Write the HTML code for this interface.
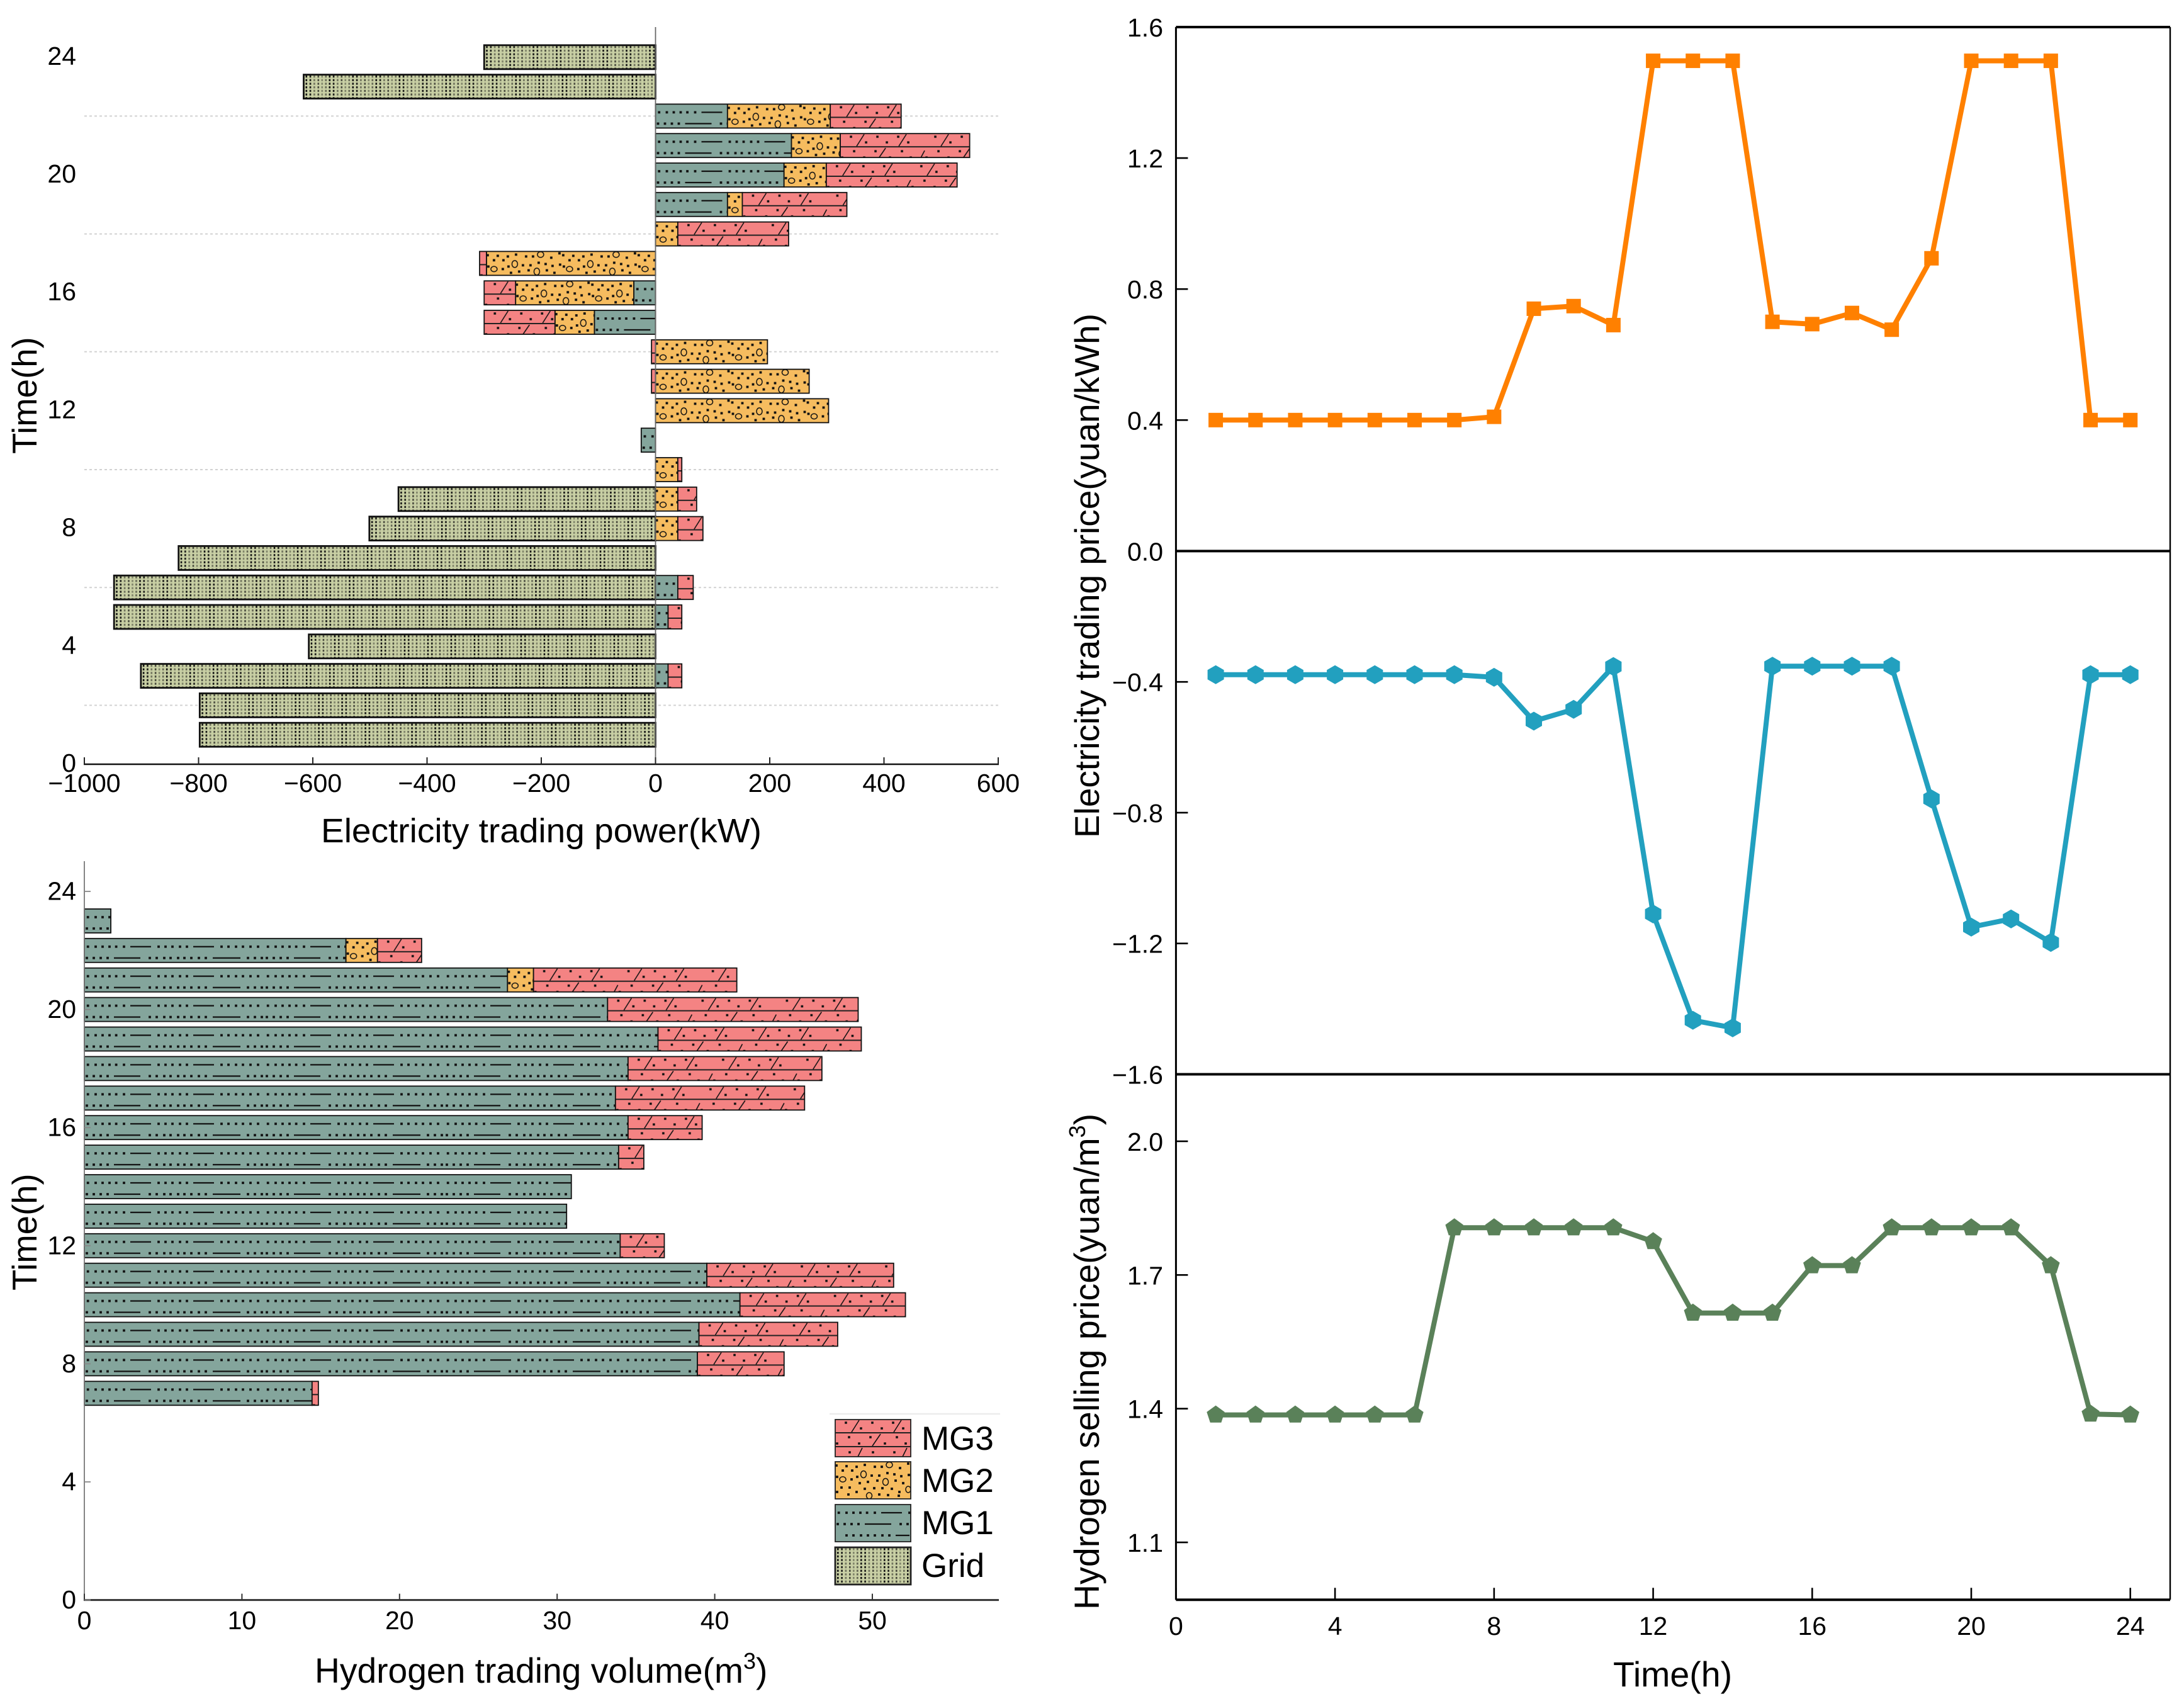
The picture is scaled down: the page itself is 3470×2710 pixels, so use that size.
<!DOCTYPE html>
<html lang="en">
<head>
<meta charset="utf-8">
<title>Electricity and hydrogen trading</title>
<style>
html,body{margin:0;padding:0;background:#fff;}
svg{display:block;}
text{font-family:"Liberation Sans",Arial,sans-serif;fill:#000;}
</style>
</head>
<body>
<svg id="fig" xmlns="http://www.w3.org/2000/svg" width="3470" height="2710" viewBox="0 0 3470 2710">
  <defs id="defs"></defs>
  <g id="elec-chart"></g>
  <g id="hydro-chart"></g>
  <g id="price-chart"></g>
  <g id="legend">
    <line x1="1318" y1="2246" x2="1589" y2="2246" stroke="#ececec" stroke-width="2.5"></line>
    <text x="1464" y="2303" font-size="53">MG3</text>
    <text x="1464" y="2370" font-size="53">MG2</text>
    <text x="1464" y="2437" font-size="53">MG1</text>
    <text x="1464" y="2505" font-size="53">Grid</text>
  </g>
  <text x="510" y="1338" font-size="54" textLength="700" lengthAdjust="spacingAndGlyphs">Electricity trading power(kW)</text>
  <text x="500" y="2673" font-size="55.2">Hydrogen trading volume(m<tspan font-size="36" dy="-22">3</tspan><tspan dy="22">)</tspan></text>
  <text transform="translate(58,721) rotate(-90)" font-size="54.5">Time(h)</text>
  <text transform="translate(58,2050) rotate(-90)" font-size="54.5">Time(h)</text>
  <text transform="translate(1746,1331) rotate(-90)" font-size="55" textLength="833" lengthAdjust="spacingAndGlyphs">Electricity trading price(yuan/kWh)</text>
  <text transform="translate(1746,2557) rotate(-90)" font-size="55.5">Hydrogen selling price(yuan/m<tspan font-size="36" dy="-22">3</tspan><tspan dy="22">)</tspan></text>
  <text x="2563" y="2679" font-size="55.5">Time(h)</text>
</svg>
<script>
/* ---------- chart data ---------- */
const hours = [1,2,3,4,5,6,7,8,9,10,11,12,13,14,15,16,17,18,19,20,21,22,23,24];
const elecGrid = [-798,-798,-901,-607,-948,-948,-835,-501,-450,0,0,0,0,0,0,0,0,0,0,0,0,0,-616,-300];
const elecMG1  = [0,0,22,0,22,39,0,0,0,0,-25,0,0,0,-107,-38,0,0,126,225,238,126,0,0];
const elecMG2  = [0,0,0,0,0,0,0,39,39,39,0,303,269,196,-69,-207,-296,39,26,74,85.5,180,0,0];
const elecMG3  = [0,0,24,0,24,27,0,44,33,7,0,0,-7,-7,-124,-55,-12,194,183,229,226.5,124,0,0];
const hydroMG1 = [0,0,0,0,0,0,14.45,38.9,39.0,41.6,39.5,34.0,30.6,30.9,33.9,34.5,33.7,34.5,36.4,33.2,26.85,16.6,1.68,0];
const hydroMG2 = [0,0,0,0,0,0,0,0,0,0,0,0,0,0,0,0,0,0,0,0,1.65,2,0,0];
const hydroMG3 = [0,0,0,0,0,0,0.4,5.5,8.8,10.5,11.85,2.8,0,0,1.6,4.7,12,12.3,12.9,15.9,12.9,2.8,0,0];
const priceBuy  = [0.4,0.4,0.4,0.4,0.4,0.4,0.4,0.41,0.74,0.748,0.69,1.497,1.497,1.497,0.7,0.693,0.727,0.676,0.894,1.497,1.497,1.497,0.4,0.4];
const priceSell = [-0.378,-0.378,-0.378,-0.378,-0.378,-0.378,-0.378,-0.386,-0.52,-0.484,-0.353,-1.11,-1.435,-1.458,-0.352,-0.352,-0.352,-0.352,-0.758,-1.15,-1.125,-1.197,-0.378,-0.378];
const priceH2   = [1.386,1.386,1.386,1.386,1.386,1.386,1.806,1.806,1.806,1.806,1.806,1.775,1.6145,1.6145,1.6145,1.721,1.721,1.806,1.806,1.806,1.806,1.721,1.388,1.386];
const hourTicks = [0,4,8,12,16,20,24];
const gridHours = [2,6,10,14,18,22];
const elecTicks = [-1000,-800,-600,-400,-200,0,200,400,600];
const hydroTicks = [0,10,20,30,40,50];
const buyTicks = [0.0,0.4,0.8,1.2,1.6];
const sellTicks = [-0.4,-0.8,-1.2,-1.6];
const h2Ticks = [1.1,1.4,1.7,2.0];
const priceXTicks = [0,4,8,12,16,20,24];
const seriesKeys = ['grid','mg1','mg2','mg3'];

/* ---------- axis functions ---------- */
function xElec(v){ return 1041.5 + v * 0.9075; }
function yElec(h){ return 1214 - h * 46.8; }
function xHydro(v){ return 134 + v * 25.04; }
function yHydro(h){ return 2541.6 - h * 46.9; }
function xPrice(h){ return 1868.4 + h * 63.18; }
function yBuy(v){ return 875.4 - v * 520.25; }
function ySell(v){ return 875.4 - v * 519.4; }
function yH2(v){ return 2237.7 - (v - 1.4) * 708; }
function fmt(v){ return String(v).replace('-', '\u2212'); }
function fmt1(v){ return v.toFixed(1).replace('-', '\u2212'); }

const NS = 'http://www.w3.org/2000/svg';
function mk(tag, attrs, parent){
  const el = document.createElementNS(NS, tag);
  for (const k in attrs) el.setAttribute(k, attrs[k]);
  parent.appendChild(el);
  return el;
}

/* ---------- hatch tiles ---------- */
const defs = document.getElementById('defs');
function tile(id, w, h, color){
  const p = mk('pattern', {id: id, patternUnits: 'userSpaceOnUse', width: w, height: h}, defs);
  mk('rect', {x: 0, y: 0, width: w, height: h, fill: color}, p);
  return p;
}
function squares(list, size){
  return list.map(function(d){ return 'M' + (d[0]-size/2) + ' ' + (d[1]-size/2) + 'h' + size + 'v' + size + 'h-' + size + 'z'; }).join('');
}
/* MG1 */
const mg1Tile = tile('hatch-mg1', 286, 56, '#84A59C');
const mg1Dots = [];
[5.7,18,29,40,50.6,63,118,129,140,152,163,218,229,241,252,264,276].forEach(function(x){ mg1Dots.push([x,13]); });
[4,15,26,37,104,115,127,137,149,159,170,182,193,260,271,282].forEach(function(x){ mg1Dots.push([x,31]); });
[18,29,41,52,63,75,86,130,142,154,166,178,190,232,244,256,268].forEach(function(x){ mg1Dots.push([x,49]); });
mk('path', {d: squares(mg1Dots, 3.8), fill: '#111'}, mg1Tile);
mk('path', {d: 'M73 13H106M173 13H206M47 31H89M204 31H248M96 49H118M200 49H222', stroke: '#111', 'stroke-width': 2.2, fill: 'none'}, mg1Tile);
/* MG2 */
const mg2Tile = tile('hatch-mg2', 120, 60, '#F6BC5F');
const mg2Dots = [[2,6],[18,7],[34,8],[47,5],[63,8],[74,8],[116,3],[12,14],[27,14],[103,10],[83,18],[94,20],[105,23],[3,24],[26,28],[35,24],[58,22],[70,22],[39,34],[52,32],[67,30],[96,30],[108,34],[117,21],[10,41],[23,41],[47,43],[62,42],[75,42],[90,43],[102,48],[3,48],[21,52],[34,48],[70,52],[84,53],[101,54]];
mk('path', {d: squares(mg2Dots, 3.8), fill: '#111'}, mg2Tile);
const mg2Rings = [[12,28,5,4.2],[45,20,4.5,5.5],[86,5,5,4.5],[80,32,4.5,5.5],[54,54,4.5,5],[116,44,4,5]];
mg2Rings.forEach(function(r){
  mk('ellipse', {cx: r[0], cy: r[1], rx: r[2], ry: r[3], fill: 'none', stroke: '#111', 'stroke-width': 1.5}, mg2Tile);
});
/* MG3 */
const mg3Tile = tile('hatch-mg3', 134, 64, '#F48383');
const mg3Dots = [[17,5],[59,5],[92,5],[41,14],[74,14],[108,14],[22,28],[56,28],[98,28],[3,38],[38,38],[79,38],[112,38],[23,52],[60,52],[94,52]];
mk('path', {d: squares(mg3Dots, 3.6), fill: '#111'}, mg3Tile);
mk('path', {d: 'M26 20L38 1M93 20L105 1M59 42L72 23M126 42L134 27M0 27L-8 42M34 63L43 45M105 63L114 45', stroke: '#111', 'stroke-width': 1.6, fill: 'none'}, mg3Tile);
mk('path', {d: 'M0 21H134M0 43H134', stroke: '#222', 'stroke-width': 2, fill: 'none'}, mg3Tile);
/* Grid */
const gridTile = tile('hatch-grid', 37, 5.7, '#C8CFA4');
const gridCols = [3,9.3,15.6,22,28,34];
const gridAlpha = [1,0.95,0.5,0.7,0.4,0.55];
gridCols.forEach(function(x, i){
  mk('rect', {x: x, y: 1.4, width: 2.6, height: 3.2, fill: '#111', 'fill-opacity': gridAlpha[i]}, gridTile);
});
const fills = {grid: 'url(#hatch-grid)', mg1: 'url(#hatch-mg1)', mg2: 'url(#hatch-mg2)', mg3: 'url(#hatch-mg3)'};

function segment(parent, x0, x1, cy, key, strokeW){
  const left = Math.min(x0, x1), w = Math.abs(x1 - x0);
  const g = mk('g', {transform: 'translate(' + left + ',' + (cy - 19) + ')'}, parent);
  mk('rect', {x: 0, y: 0, width: w, height: 38, fill: fills[key], stroke: '#111', 'stroke-width': strokeW}, g);
  return g;
}

/* ---------- electricity trading power chart ---------- */
const elecChart = document.getElementById('elec-chart');
gridHours.forEach(function(h){
  const gl = mk('line', {x1: xElec(-1000), x2: xElec(600), y1: yElec(h), y2: yElec(h), stroke: '#d2d2d2', 'stroke-width': 2, 'stroke-dasharray': '4 4'}, elecChart);
  
  
});
const elecSeries = {grid: elecGrid, mg1: elecMG1, mg2: elecMG2, mg3: elecMG3};
hours.forEach(function(h, i){
  let pos = 0, neg = 0;
  seriesKeys.forEach(function(key){
    const v = elecSeries[key][i];
    if (!v) return;
    const base = v > 0 ? pos : neg;
    const seg = segment(elecChart, xElec(base), xElec(base + v), yElec(h), key, key === 'grid' ? 2.8 : 1.8);
    
    
    if (v > 0) pos += v; else neg += v;
  });
});
const elecYAxis = mk('line', {x1: xElec(0), x2: xElec(0), y1: 43, y2: yElec(0), stroke: '#666', 'stroke-width': 1.8}, elecChart);


const elecXAxis = mk('line', {x1: xElec(-1000) - 1, x2: xElec(600) + 1, y1: yElec(0), y2: yElec(0), stroke: '#111', 'stroke-width': 2.6}, elecChart);


elecTicks.forEach(function(v){
  const t = mk('line', {x1: xElec(v), x2: xElec(v), y1: yElec(0), y2: yElec(0) - 11, stroke: '#222', 'stroke-width': 2}, elecChart);
  
  
  const l = mk('text', {x: xElec(v), y: 1258, 'font-size': 41, 'text-anchor': 'middle'}, elecChart);
  l.textContent = fmt(v);
  
  
});
hourTicks.forEach(function(h){
  const l = mk('text', {x: 121, y: yElec(h) + 12, 'font-size': 41, 'text-anchor': 'end'}, elecChart);
  l.textContent = String(h);
  
  
});

/* ---------- hydrogen trading volume chart ---------- */
const hydroChart = document.getElementById('hydro-chart');
const hydroSeries = {mg1: hydroMG1, mg2: hydroMG2, mg3: hydroMG3};
hours.forEach(function(h, i){
  let pos = 0;
  ['mg1','mg2','mg3'].forEach(function(key){
    const v = hydroSeries[key][i];
    if (!v) return;
    const seg = segment(hydroChart, xHydro(pos), xHydro(pos + v), yHydro(h), key, 1.8);
    
    
    pos += v;
  });
});
const hydroYAxis = mk('line', {x1: 134, x2: 134, y1: 1368, y2: yHydro(0), stroke: '#777', 'stroke-width': 1.8}, hydroChart);


const hydroXAxis = mk('line', {x1: 133, x2: 1587, y1: yHydro(0), y2: yHydro(0), stroke: '#333', 'stroke-width': 3}, hydroChart);


hydroTicks.forEach(function(v){
  const t = mk('line', {x1: xHydro(v), x2: xHydro(v), y1: yHydro(0), y2: yHydro(0) - 10, stroke: '#333', 'stroke-width': 2}, hydroChart);
  
  
  const l = mk('text', {x: xHydro(v), y: 2588, 'font-size': 41, 'text-anchor': 'middle'}, hydroChart);
  l.textContent = fmt(v);
  
  
});
hourTicks.forEach(function(h){
  const t = mk('line', {x1: 134, x2: 144, y1: yHydro(h), y2: yHydro(h), stroke: '#888', 'stroke-width': 1.8}, hydroChart);
  
  
  const l = mk('text', {x: 121, y: yHydro(h) + 13.5, 'font-size': 41, 'text-anchor': 'end'}, hydroChart);
  l.textContent = String(h);
  
  
});

/* ---------- legend swatches ---------- */
const legendG = document.getElementById('legend');
const legendKeys = ['mg3','mg2','mg1','grid'];
const legendTops = [2255,2322,2390,2458];
legendKeys.forEach(function(key, i){
  const g = mk('g', {transform: 'translate(1327,' + legendTops[i] + ')'}, legendG);
  mk('rect', {x: 0, y: 0, width: 120, height: 59, fill: fills[key], stroke: '#222', 'stroke-width': key === 'grid' ? 2.8 : 1.8}, g);
  
  
});

/* ---------- price panels ---------- */
const priceChart = document.getElementById('price-chart');
const PL = 1868.4, PR = 3448, PT = 43, PM1 = 875.4, PM2 = 1706.5, PB = 2541.3;
[[PL,PL,PT,PB,3,'price-left-axis'],[PR,PR,PT,PB,2.4,'price-right-axis'],[PL,PR,PT,PT,4,'price-top-axis'],[PL,PR,PM1,PM1,4,'price-zero-divider'],[PL,PR,PM2,PM2,4,'price-lower-divider'],[PL,PR,PB,PB,4,'price-bottom-axis']].forEach(function(a){
  const ln = mk('line', {x1: a[0], x2: a[1], y1: a[2], y2: a[3], stroke: '#000', 'stroke-width': a[4]}, priceChart);
  
  
});
function yTicks(ticks, yFn, skipMark){
  ticks.forEach(function(v){
    const y = yFn(v);
    if (!skipMark || skipMark.indexOf(v) < 0) {
      const t = mk('line', {x1: PL, x2: PL + 19, y1: y, y2: y, stroke: '#000', 'stroke-width': 2.6}, priceChart);
      
      
    }
    const l = mk('text', {x: 1848, y: y + 15, 'font-size': 41, 'text-anchor': 'end'}, priceChart);
    l.textContent = fmt1(v);
    
    
  });
}
yTicks(buyTicks, yBuy, [0.0, 1.6]);
yTicks(sellTicks, ySell, [-1.6]);
yTicks(h2Ticks, yH2, []);
priceXTicks.forEach(function(h){
  const t = mk('line', {x1: xPrice(h), x2: xPrice(h), y1: PB, y2: PB - 19, stroke: '#000', 'stroke-width': 2.6}, priceChart);
  
  
  const l = mk('text', {x: xPrice(h), y: 2597, 'font-size': 41, 'text-anchor': 'middle'}, priceChart);
  l.textContent = String(h);
  
  
});
function regular(cx, cy, r, n){
  const pts = [];
  for (let k = 0; k < n; k++) {
    const a = -Math.PI / 2 + k * 2 * Math.PI / n;
    pts.push((cx + r * Math.cos(a)).toFixed(1) + ',' + (cy + r * Math.sin(a)).toFixed(1));
  }
  return pts.join(' ');
}
function drawSeries(values, yFn, color, marker, name){
  const g = mk('g', {}, priceChart);
  
  
  const pts = hours.map(function(h, i){ return xPrice(h).toFixed(1) + ',' + yFn(values[i]).toFixed(1); }).join(' ');
  const line = mk('polyline', {points: pts, fill: 'none', stroke: color, 'stroke-width': 8, 'stroke-linejoin': 'round'}, g);
  
  
  hours.forEach(function(h, i){
    const cx = xPrice(h), cy = yFn(values[i]);
    let m;
    if (marker === 'square') m = mk('rect', {x: cx - 11.5, y: cy - 11.5, width: 23, height: 23, fill: color}, g);
    else m = mk('polygon', {points: regular(cx, cy, 15, marker === 'hexagon' ? 6 : 5), fill: color}, g);
    
    
  });
}
drawSeries(priceBuy, yBuy, '#FF8000', 'square', 'electricity-buy-price');
drawSeries(priceSell, ySell, '#22A0BF', 'hexagon', 'electricity-sell-price');
drawSeries(priceH2, yH2, '#5A8159', 'pentagon', 'hydrogen-price');
</script>
</body>
</html>
